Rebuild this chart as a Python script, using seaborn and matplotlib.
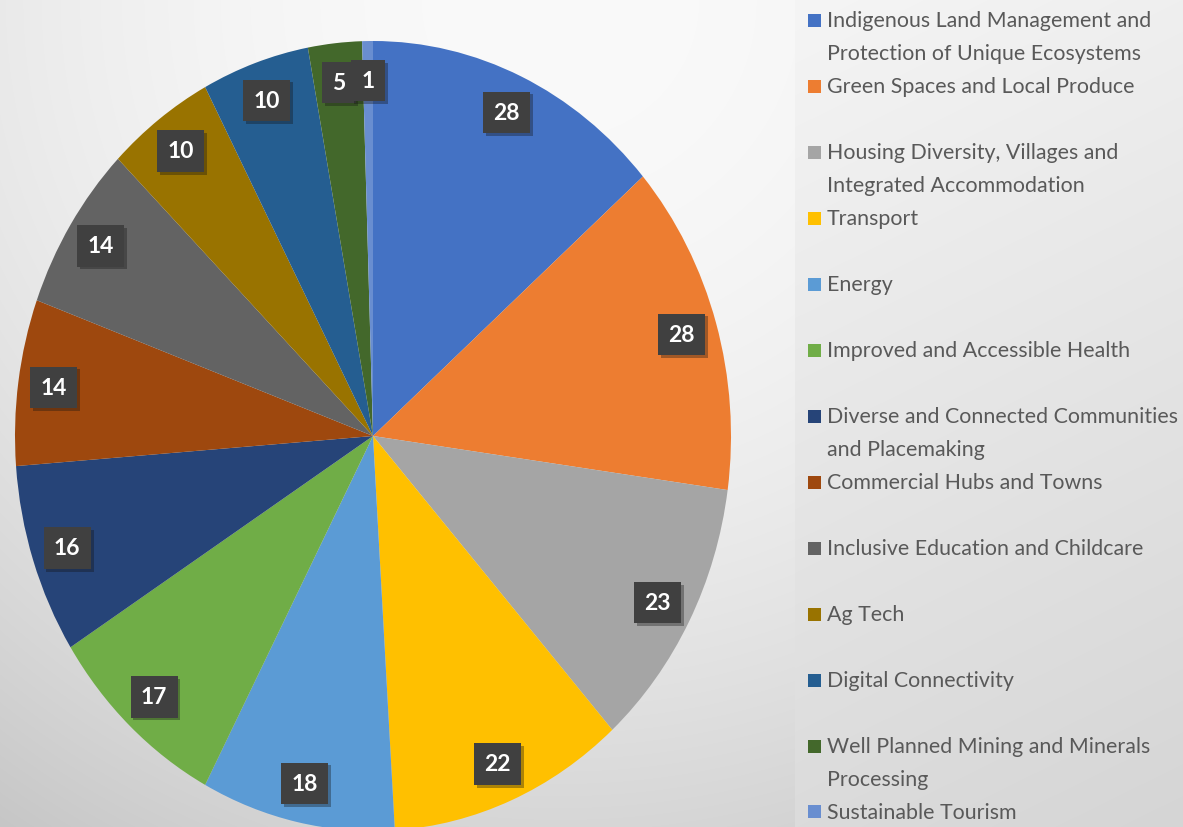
import numpy as np
import matplotlib
matplotlib.use("Agg")
import matplotlib.pyplot as plt
import matplotlib.patheffects as pe
from matplotlib.patches import Rectangle
import seaborn as sns

# Data
categories = [
    "Indigenous Land Management and\nProtection of Unique Ecosystems",
    "Green Spaces and Local Produce",
    "Housing Diversity, Villages and\nIntegrated Accommodation",
    "Transport",
    "Energy",
    "Improved and Accessible Health",
    "Diverse and Connected Communities\nand Placemaking",
    "Commercial Hubs and Towns",
    "Inclusive Education and Childcare",
    "Ag Tech",
    "Digital Connectivity",
    "Well Planned Mining and Minerals\nProcessing",
    "Sustainable Tourism",
]
counts = [28, 28, 23, 22, 18, 17, 16, 14, 14, 10, 10, 5, 1]
colors = ["#4472C4", "#ED7D31", "#A5A5A5", "#FFC000", "#5B9BD5", "#70AD47",
          "#264478", "#9E480E", "#636363", "#997300", "#255E91", "#43682B",
          "#698ED0"]

sns.set_style("white")
plt.rcParams['font.family'] = ['Lato', 'DejaVu Sans']
palette = sns.color_palette(colors)

W, H = 1183, 828
fig = plt.figure(figsize=(W / 100, H / 100), dpi=100)

# Background gradient (chart area)
bg = fig.add_axes([0, 0, 1, 1])
yy, xx = np.mgrid[0:H, 0:W]
d = np.hypot(xx - 560, yy) / 1000.0
shade = (250 - 52 * d ** 2) / 255.0
bg.imshow(np.dstack([shade] * 3).clip(0, 1), extent=(0, W, H, 0), aspect='auto')
bg.set_xlim(0, W)
bg.set_ylim(H, 0)
bg.axis('off')

# Pie: center (373, 437), rx 358, ry 395 pixels
cx, cy, rx, ry = 373, 437, 358, 395
pw = 795
ax = fig.add_axes([0, 0, pw / W, 1])
total = sum(counts)
wedges, _, autotexts = ax.pie(
    counts, colors=palette, startangle=90, counterclock=False,
    autopct=lambda p: f"{p * total / 100:.0f}", pctdistance=0.9,
    wedgeprops=dict(linewidth=0),
    textprops=dict(color='white', fontsize=16.5, fontweight='bold'))
ax.set_aspect('auto')
ax.set_position([0, 0, pw / W, 1])
ax.set_xlim(-cx / rx, (pw - cx) / rx)
ax.set_ylim((cy - H) / ry, cy / ry)
ax.axis('off')
for w in wedges:
    w.set_clip_on(True)
for t in autotexts:
    t.set_bbox(dict(boxstyle='square,pad=0.45', fc='#404040', ec='none'))
    t.get_bbox_patch().set_path_effects(
        [pe.SimplePatchShadow(offset=(2, -2), alpha=0.35), pe.Normal()])

# Legend panel
lg = fig.add_axes([pw / W, 0, (W - pw) / W, 1])
yy2, xx2 = np.mgrid[0:H, pw:W]
shade2 = (245 - 26 * (yy2 / H) - 6 * ((xx2 - pw) / (W - pw))) / 255.0
lg.imshow(np.dstack([shade2] * 3), extent=(pw, W, H, 0), aspect='auto')
lg.set_xlim(pw, W)
lg.set_ylim(H, 0)
lg.axis('off')

for i, (lab, col) in enumerate(zip(categories, palette)):
    y0 = 21 + 66 * i
    lg.add_patch(Rectangle((808, y0 - 6.5), 13, 13, fc=col, ec='none'))
    for j, line in enumerate(lab.split("\n")):
        lg.text(827, y0 + 33 * j, line, fontsize=15.4, color='#595959',
                va='center', ha='left')

fig.savefig("out.png", dpi=100)
